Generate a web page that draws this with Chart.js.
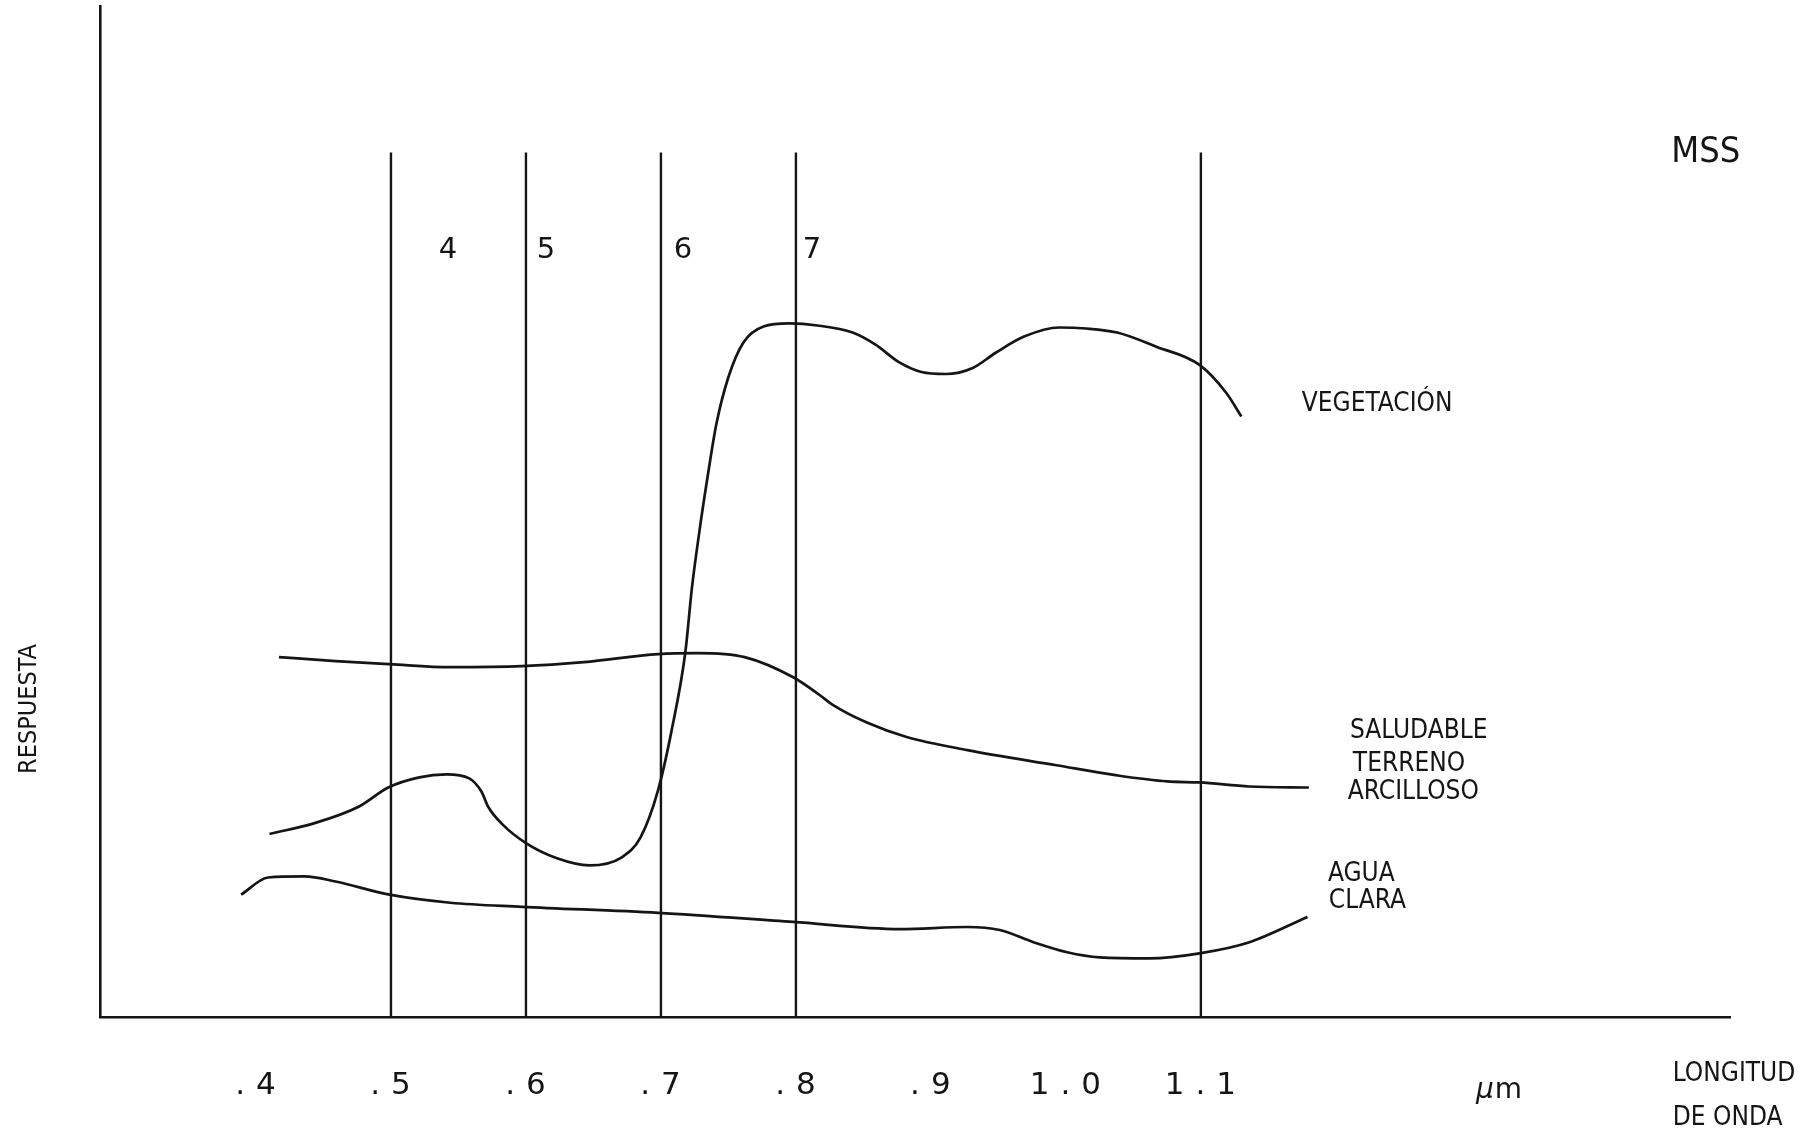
<!DOCTYPE html>
<html><head><meta charset="utf-8">
<script src="https://cdn.jsdelivr.net/npm/chart.js@4/dist/chart.umd.min.js"></script>
<style>html,body{margin:0;padding:0;background:#fff;overflow:hidden}</style>
</head><body>
<canvas id="c" width="1812" height="1139"></canvas>
<script>
// ---- data (wavelength in µm, response in arbitrary units 0-100) ----
const tickValues = [0.4, 0.5, 0.6, 0.7, 0.8, 0.9, 1.0, 1.1];
const tickLabels = ['.4', '.5', '.6', '.7', '.8', '.9', '1.0', '1.1'];
const bandEdges = [0.5, 0.6, 0.7, 0.8, 1.1];
const bandTop = 85.5;

const vegX = [0.410,0.444,0.476,0.498,0.521,0.541,0.558,0.567,0.572,0.583,0.600,0.623,0.647,0.671,0.685,0.698,0.708,0.718,0.723,0.729,0.735,0.741,0.750,0.761,0.776,0.795,0.816,0.842,0.859,0.876,0.893,0.911,0.931,0.948,0.969,0.995,1.015,1.038,1.067,1.099,1.119,1.130];
const vegY = [18.1,19.2,20.8,22.7,23.7,24.0,23.6,22.3,20.8,19.0,17.2,15.7,15.0,15.8,17.8,22.5,28.4,36.0,42.5,48.5,53.8,58.6,63.3,66.7,68.3,68.6,68.4,67.7,66.5,64.8,63.8,63.6,64.2,65.7,67.3,68.2,68.1,67.7,66.3,64.5,61.7,59.4];

const soilX = [0.417,0.459,0.499,0.544,0.597,0.643,0.698,0.727,0.762,0.798,0.818,0.827,0.853,0.882,0.927,0.993,1.038,1.075,1.099,1.136,1.180];
const soilY = [35.6,35.2,34.9,34.6,34.7,35.1,35.9,36.0,35.6,33.6,31.8,30.9,29.1,27.7,26.4,24.9,23.9,23.3,23.2,22.8,22.7];

const waterX = [0.389,0.409,0.436,0.459,0.499,0.544,0.597,0.698,0.798,0.877,0.927,0.951,0.976,1.001,1.025,1.062,1.099,1.136,1.179];
const waterY = [12.1,13.8,13.9,13.4,12.1,11.3,10.9,10.3,9.4,8.7,8.9,8.6,7.4,6.4,5.9,5.8,6.3,7.4,9.9];

const bandNames = ['4', '5', '6', '7'];
const bandNameX = [0.5422, 0.6148, 0.7163, 0.8119];
const bandNameY = 75.8;

const curveTexts = ['VEGETACIÓN', 'SALUDABLE', 'TERRENO', 'ARCILLOSO', 'AGUA', 'CLARA'];
const curveTextX = [1.1748, 1.2104, 1.2126, 1.2089, 1.1941, 1.1948];
const curveTextY = [60.6, 28.3, 25.0, 22.2, 14.1, 11.4];

const ink = '#151515';
const pts = (xs, ys) => xs.map((v, i) => ({x: v, y: ys[i]}));

const curveStyle = {
  borderColor: ink, borderWidth: 2.7, pointRadius: 0, fill: false,
  cubicInterpolationMode: 'monotone'
};

const datasets = [
  Object.assign({label: 'Vegetación saludable', data: pts(vegX, vegY)}, curveStyle),
  Object.assign({label: 'Terreno arcilloso', data: pts(soilX, soilY)}, curveStyle),
  Object.assign({label: 'Agua clara', data: pts(waterX, waterY)}, curveStyle)
];
bandEdges.forEach(b => datasets.push({
  label: 'límite ' + b, data: [{x: b, y: 0}, {x: b, y: bandTop}],
  borderColor: ink, borderWidth: 2.4, pointRadius: 0, tension: 0
}));

const textPlugin = {
  id: 'texts',
  afterDraw(chart) {
    const {ctx, scales: {x, y}} = chart;
    const cond = '"DejaVu Sans Condensed", "DejaVu Sans", sans-serif';
    ctx.save();
    ctx.fillStyle = ink;
    ctx.textBaseline = 'middle';

    // tick labels
    ctx.font = '31px "DejaVu Sans", sans-serif';
    ctx.textAlign = 'center';
    ctx.letterSpacing = '11px';
    tickValues.forEach((v, i) => ctx.fillText(tickLabels[i], x.getPixelForValue(v) + 5, y.bottom + 69));
    ctx.letterSpacing = '0px';

    // band numbers
    ctx.font = '29px "DejaVu Sans", sans-serif';
    bandNames.forEach((t, i) => ctx.fillText(t, x.getPixelForValue(bandNameX[i]), y.getPixelForValue(bandNameY)));

    // MSS
    ctx.font = '36px ' + cond;
    ctx.fillText('MSS', x.getPixelForValue(1.4741), y.getPixelForValue(85.46));

    // curve names
    ctx.textAlign = 'left';
    ctx.font = '26px ' + cond;
    curveTexts.forEach((t, i) => ctx.fillText(t, x.getPixelForValue(curveTextX[i]), y.getPixelForValue(curveTextY[i])));

    // axis titles
    ctx.font = '26px ' + cond;
    ctx.fillText('LONGITUD', x.getPixelForValue(1.4496), y.getPixelForValue(-5.64));
    ctx.fillText('DE ONDA', x.getPixelForValue(1.4496), y.getPixelForValue(-9.99));
    const ux = x.getPixelForValue(1.3215), uy = y.getPixelForValue(-7.3);
    ctx.font = 'italic 28px "DejaVu Sans", sans-serif';
    ctx.textAlign = 'right';
    ctx.fillText('µ', ux - 6, uy);
    ctx.font = '28px "DejaVu Sans", sans-serif';
    ctx.textAlign = 'left';
    ctx.fillText('m', ux - 5, uy);

    ctx.save();
    ctx.translate(x.getPixelForValue(0.2319), y.getPixelForValue(30.46));
    ctx.rotate(-Math.PI / 2);
    ctx.font = '25px ' + cond;
    ctx.textAlign = 'center';
    ctx.fillText('RESPUESTA', 0, 0);
    ctx.restore();

    ctx.restore();
  }
};

new Chart(document.getElementById('c'), {
  type: 'line',
  data: {datasets},
  options: {
    responsive: false,
    animation: false,
    layout: {padding: {left: 100, right: 82, top: 6, bottom: 122}},
    plugins: {legend: {display: false}, tooltip: {enabled: false}},
    scales: {
      x: {
        type: 'linear', min: 0.28444, max: 1.4920,
        grid: {display: false}, ticks: {display: false},
        border: {display: true, color: ink, width: 2.6},
        afterFit(scale) { scale.height = 0; }
      },
      y: {
        type: 'linear', min: 0, max: 100,
        grid: {display: false}, ticks: {display: false},
        border: {display: true, color: ink, width: 2.6},
        afterFit(scale) { scale.width = 0; }
      }
    }
  },
  plugins: [textPlugin]
});
</script>
</body></html>
